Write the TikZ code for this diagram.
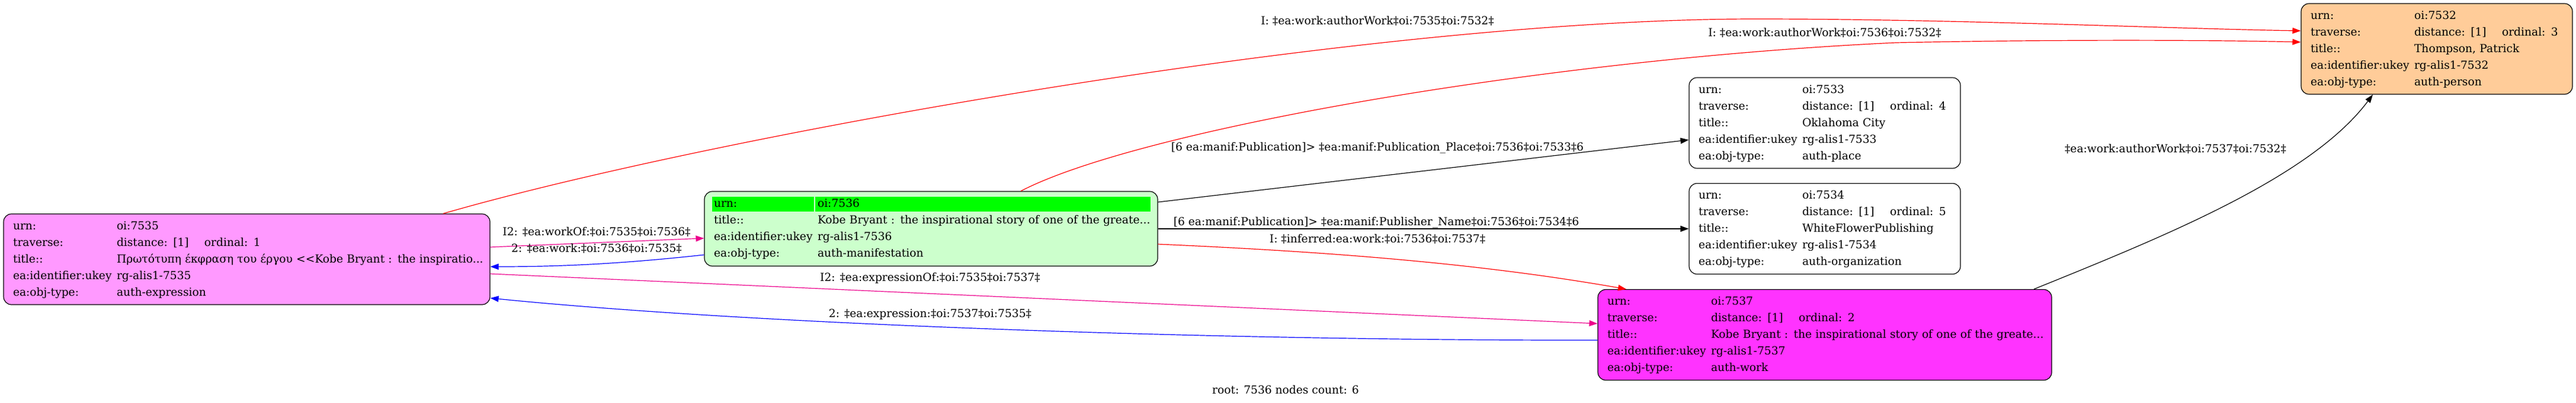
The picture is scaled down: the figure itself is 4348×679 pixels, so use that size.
\documentclass[tikz,border=0pt]{standalone}
\usepackage{fontspec}
\setmainfont{DejaVu Serif}
\usetikzlibrary{arrows.meta,calc}
\definecolor{exprpink}{HTML}{FF99FF}
\definecolor{manifgreen}{HTML}{CCFFCC}
\definecolor{hdrgreen}{HTML}{00FF00}
\definecolor{workmag}{HTML}{FF33FF}
\definecolor{personorange}{HTML}{FFCC99}
\newcommand{\fieldrow}[2]{\mbox{\strut\makebox[131.25pt][l]{#1}#2}}
\newcommand{\travrow}[1]{\fieldrow{traverse:}{\makebox[111pt][l]{distance: [1]}ordinal: #1}}
\begin{document}
\begin{tikzpicture}[
        x=0.75pt, y=-0.75pt,
        rec/.style={rectangle, rounded corners=10pt, draw=black, line width=0.9pt, align=left,
            inner xsep=12pt, inner ysep=0pt, minimum height=114.75pt, font=\fontsize{14}{21}\selectfont},
        lbl/.style={inner sep=0pt, text height=10.5pt, text depth=3.5pt, font=\fontsize{14}{16}\selectfont},
        rel/.style={-{Triangle[length=10.5pt,width=7.5pt]}, line width=0.9pt}
    ]
    \useasboundingbox (0,0) rectangle (4348,679);
    % records
    \node[rec, fill=exprpink, text width=591.75pt] (n7535) at (416.5,437.5) {
        \fieldrow{urn:}{oi:7535}\\
        \travrow{1}\\
        \fieldrow{title::}{Πρωτότυπη έκφραση του έργου <\kern0pt<Kobe Bryant : the inspiratio...}\\
        \fieldrow{ea:identifier:ukey}{rg-alis1-7535}\\
        \fieldrow{ea:obj-type:}{auth-expression}
    };
    \node[rec, fill=manifgreen, text width=549.75pt, minimum height=94.5pt,
        path picture={
            \fill[hdrgreen, sharp corners] ($(path picture bounding box.north west)+(13,9)$) rectangle ++(172,25);
            \fill[hdrgreen, sharp corners] ($(path picture bounding box.north west)+(187,9)$) rectangle ++(566,25);
        }] (n7536) at (1571.5,386) {
        \fieldrow{urn:}{oi:7536}\\
        \fieldrow{title::}{Kobe Bryant : the inspirational story of one of the greate...}\\
        \fieldrow{ea:identifier:ukey}{rg-alis1-7536}\\
        \fieldrow{ea:obj-type:}{auth-manifestation}
    };
    \node[rec, fill=workmag, text width=550.5pt] (n7537) at (3080,565) {
        \fieldrow{urn:}{oi:7537}\\
        \travrow{2}\\
        \fieldrow{title::}{Kobe Bryant : the inspirational story of one of the greate...}\\
        \fieldrow{ea:identifier:ukey}{rg-alis1-7537}\\
        \fieldrow{ea:obj-type:}{auth-work}
    };
    \node[rec, fill=white, text width=319.5pt] (n7533) at (3080,207.5) {
        \fieldrow{urn:}{oi:7533}\\
        \travrow{4}\\
        \fieldrow{title::}{Oklahoma City}\\
        \fieldrow{ea:identifier:ukey}{rg-alis1-7533}\\
        \fieldrow{ea:obj-type:}{auth-place}
    };
    \node[rec, fill=white, text width=319.5pt] (n7534) at (3080,386) {
        \fieldrow{urn:}{oi:7534}\\
        \travrow{5}\\
        \fieldrow{title::}{WhiteFlowerPublishing}\\
        \fieldrow{ea:identifier:ukey}{rg-alis1-7534}\\
        \fieldrow{ea:obj-type:}{auth-organization}
    };
    \node[rec, fill=personorange, text width=319.5pt] (n7532) at (4113,82.5) {
        \fieldrow{urn:}{oi:7532}\\
        \travrow{3}\\
        \fieldrow{title::}{Thompson, Patrick}\\
        \fieldrow{ea:identifier:ukey}{rg-alis1-7532}\\
        \fieldrow{ea:obj-type:}{auth-person}
    };
    % relations
    \draw[rel, red] ($(n7535.north)+(331.5,0)$) .. controls (1200,230) and (2300,32) .. (2963,32)
        .. controls (3300,32) and (3650,48) .. ($(n7532.west)+(0,-30.5)$);
    \draw[rel, red] ($(n7536.north)+(151.5,0)$) .. controls (1920,220) and (2600,100) .. (3200,72)
        .. controls (3500,66) and (3750,68) .. ($(n7532.west)+(0,-11.5)$);
    \draw[rel] ($(n7536.east)+(0,-45)$) -- ($(n7533.west)+(0,28.5)$);
    \draw[rel] (n7536.east) -- (n7534.west);
    \draw[rel, red] ($(n7536.east)+(0,26)$) .. controls (2250,425) and (2500,445) .. ($(n7537.north)+(-335,0)$);
    \draw[rel, magenta] ($(n7535.east)+(0,-20.5)$) -- ($(n7536.west)+(0,16)$);
    \draw[rel, blue] ($(n7536.west)+(0,44)$) .. controls (1050,445) and (950,450) .. ($(n7535.east)+(0,12.5)$);
    \draw[rel, magenta] ($(n7535.east)+(0,24.5)$) -- ($(n7537.west)+(0,-19)$);
    \draw[rel, blue] ($(n7537.west)+(0,9)$) .. controls (2100,575) and (1300,550) .. ($(n7535.east)+(0,65.5)$);
    \draw[rel] ($(n7537.north)+(353,0)$) .. controls (3650,400) and (3900,300) .. ($(n7532.south)+(-108,0)$);
    % labels
    \node[lbl] (l1) at (2325,37) {I: ‡ea:work:authorWork‡oi:7535‡oi:7532‡};
    \node[lbl] (l2) at (3080,57) {I: ‡ea:work:authorWork‡oi:7536‡oi:7532‡};
    \node[lbl] (l3) at (2325,250) {[6 ea:manif:Publication]> ‡ea:manif:Publication\_Place‡oi:7536‡oi:7533‡6};
    \node[lbl] (l4) at (2323,376) {[6 ea:manif:Publication]> ‡ea:manif:Publisher\_Name‡oi:7536‡oi:7534‡6};
    \node[lbl] (l5) at (2325,405) {I: ‡inferred:ea:work:‡oi:7536‡oi:7537‡};
    \node[lbl] (l6) at (1007,393) {I2: ‡ea:workOf:‡oi:7535‡oi:7536‡};
    \node[lbl] (l7) at (1007,421) {2: ‡ea:work:‡oi:7536‡oi:7535‡};
    \node[lbl] (l8) at (1570,470) {I2: ‡ea:expressionOf:‡oi:7535‡oi:7537‡};
    \node[lbl] (l9) at (1570,531) {2: ‡ea:expression:‡oi:7537‡oi:7535‡};
    \node[lbl] (l10) at (3672,253) {‡ea:work:authorWork‡oi:7537‡oi:7532‡};
    \node[lbl] (root) at (2170,660) {root: 7536 nodes count: 6};
\end{tikzpicture}
\end{document}
